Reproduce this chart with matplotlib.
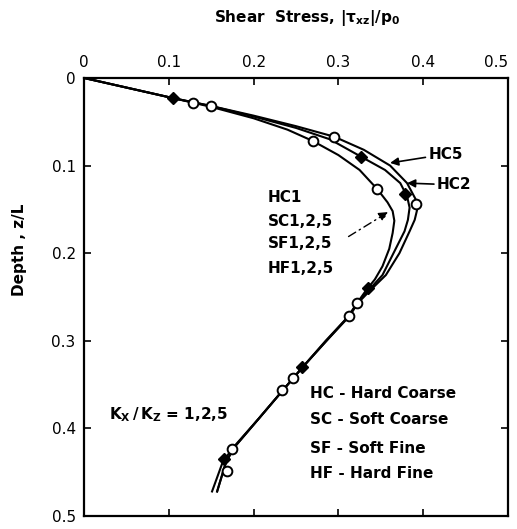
import matplotlib
matplotlib.use('agg')
import matplotlib.pyplot as plt

# shear stress profiles (x = |tau_xz|/p0, z = depth z/L)
inner_x = [0, 0.105, 0.150, 0.200, 0.240, 0.270, 0.300, 0.325, 0.346, 0.358, 0.364, 0.366, 0.364,
           0.360, 0.352, 0.343, 0.333, 0.322, 0.312, 0.285, 0.257, 0.234, 0.205, 0.174, 0.163, 0.151]
inner_z = [0, 0.023, 0.033, 0.046, 0.059, 0.072, 0.088, 0.105, 0.127, 0.142, 0.152, 0.163, 0.177,
           0.195, 0.215, 0.230, 0.242, 0.257, 0.272, 0.301, 0.331, 0.357, 0.390, 0.424, 0.440, 0.472]

hc2_x = [0, 0.105, 0.150, 0.200, 0.250, 0.290, 0.327, 0.355, 0.373, 0.381, 0.384, 0.382, 0.378,
         0.365, 0.352, 0.336, 0.322, 0.312, 0.285, 0.258, 0.235, 0.206, 0.176, 0.167, 0.157]
hc2_z = [0, 0.023, 0.032, 0.044, 0.057, 0.070, 0.090, 0.105, 0.120, 0.135, 0.148, 0.162, 0.175,
         0.200, 0.225, 0.242, 0.257, 0.272, 0.300, 0.330, 0.356, 0.389, 0.423, 0.440, 0.472]

hc5_x = [0, 0.105, 0.150, 0.200, 0.250, 0.295, 0.330, 0.361, 0.381, 0.392, 0.393, 0.390, 0.384,
         0.372, 0.356, 0.338, 0.323, 0.313, 0.286, 0.258, 0.235, 0.206, 0.176, 0.167, 0.157]
hc5_z = [0, 0.023, 0.032, 0.043, 0.055, 0.067, 0.082, 0.100, 0.120, 0.140, 0.150, 0.162, 0.175,
         0.200, 0.225, 0.242, 0.257, 0.272, 0.300, 0.330, 0.356, 0.389, 0.423, 0.440, 0.472]

# measured points
open_x = [0.128, 0.150, 0.295, 0.270, 0.346, 0.392, 0.322, 0.312, 0.246, 0.234, 0.175, 0.169]
open_z = [0.028, 0.032, 0.067, 0.072, 0.127, 0.144, 0.257, 0.272, 0.342, 0.356, 0.423, 0.449]
filled_x = [0.105, 0.327, 0.379, 0.335, 0.257, 0.165]
filled_z = [0.023, 0.090, 0.133, 0.240, 0.330, 0.435]

ticks = [0, 0.1, 0.2, 0.3, 0.4, 0.5]
tick_labels = ['0', '0.1', '0.2', '0.3', '0.4', '0.5']

group_labels = ['HC1', 'SC1,2,5', 'SF1,2,5', 'HF1,2,5']
group_z = [0.136, 0.164, 0.189, 0.218]
legend_labels = ['HC - Hard Coarse', 'SC - Soft Coarse', 'SF - Soft Fine', 'HF - Hard Fine']
legend_z = [0.360, 0.390, 0.423, 0.452]

fs = 11
fig = plt.figure(figsize=(5.17, 5.29), dpi=100)
ax = fig.add_axes([0.1625, 0.0246, 0.82, 0.828])

for xs, zs in [(inner_x, inner_z), (hc2_x, hc2_z), (hc5_x, hc5_z)]:
    ax.plot(xs, zs, color='black', lw=1.5, solid_joinstyle='round')

ax.plot(open_x, open_z, 'o', ms=7, mfc='white', mec='black', mew=1.4, zorder=3)
ax.plot(filled_x, filled_z, 'D', ms=6, color='black', zorder=3)

ax.set_xlim(0, 0.5)
ax.set_ylim(0.5, 0)
ax.set_xticks(ticks)
ax.set_xticklabels(tick_labels)
ax.set_yticks(ticks)
ax.set_yticklabels(tick_labels)
ax.tick_params(direction='in', top=True, right=True, labeltop=True, labelbottom=False,
               length=5, width=1.2, labelsize=fs, pad=6)
# keep the last top label inside the figure
ax.get_xticklabels(which='major')[-1].set_horizontalalignment('right')
for t in ax.xaxis.get_major_ticks()[-1:]:
    t.label2.set_horizontalalignment('right')
for s in ax.spines.values():
    s.set_linewidth(1.6)

ax.xaxis.set_label_position('top')
ax.set_xlabel(r'Shear  Stress, $\mathbf{|\tau_{xz}|/p_0}$', fontsize=fs, fontweight='bold')
ax.xaxis.set_label_coords(0.526, 1.128)
ax.set_ylabel('Depth , z/L', fontsize=fs, fontweight='bold')
ax.yaxis.set_label_coords(-0.134, 0.607)

arrow = dict(arrowstyle='-|>', color='black', lw=1.2, mutation_scale=12, shrinkA=0, shrinkB=0)
ax.annotate('HC5', xy=(0.361, 0.097), xytext=(0.406, 0.087), fontsize=fs, fontweight='bold',
            va='center', arrowprops=arrow)
ax.annotate('HC2', xy=(0.381, 0.120), xytext=(0.416, 0.122), fontsize=fs, fontweight='bold',
            va='center', arrowprops=arrow)
ax.annotate('', xy=(0.359, 0.153), xytext=(0.312, 0.181),
            arrowprops=dict(arrowstyle='-|>', color='black', lw=1.0, ls=(0, (6, 3, 1, 3)),
                            mutation_scale=14, shrinkA=0, shrinkB=0))

for lab, z in zip(group_labels, group_z):
    ax.text(0.217, z, lab, fontsize=fs, fontweight='bold', va='center')
for lab, z in zip(legend_labels, legend_z):
    ax.text(0.2665, z, lab, fontsize=fs, fontweight='bold', va='center')
ax.text(0.029, 0.384, r'$\mathbf{K_X\,/\,K_Z}$ = 1,2,5', fontsize=fs, fontweight='bold', va='center')

fig.savefig('out.png', dpi=100)
